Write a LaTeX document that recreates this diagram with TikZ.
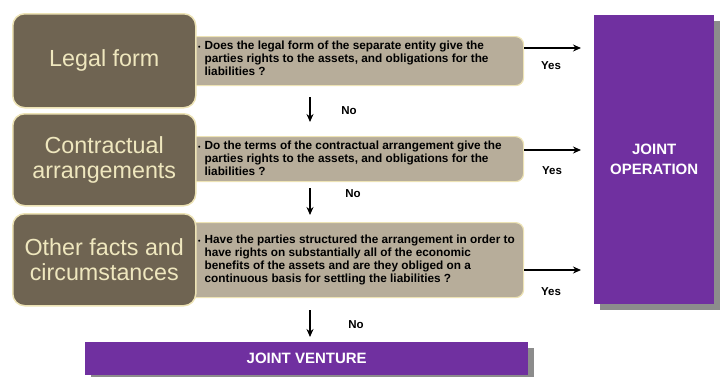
\documentclass[tikz,border=0pt]{standalone}
\usepackage{fontspec}
\setmainfont{Liberation Sans}
\usetikzlibrary{arrows.meta,shadows}
\definecolor{brownbox}{HTML}{6F6452}
\definecolor{creamline}{HTML}{EDE3B5}
\definecolor{creamtext}{HTML}{EFE7BE}
\definecolor{graybox}{HTML}{B7AD9A}
\definecolor{purplebox}{HTML}{7030A0}
\definecolor{shadowgray}{HTML}{8C8C8C}
\tikzset{
  brownstep/.style={draw=creamline, line width=1.5pt, fill=brownbox, rounded corners=12pt,
    anchor=north west, inner sep=0pt, minimum width=183pt, text=creamtext, align=center,
    font=\fontsize{23.3}{25}\selectfont},
  grayq/.style={draw=creamline, line width=1.2pt, fill=graybox, rounded corners=8pt,
    anchor=north west, inner sep=0pt, minimum width=343pt},
  qtext/.style={anchor=west, inner sep=0pt, font=\bfseries\fontsize{11.8}{13}\selectfont, align=left},
  purplebx/.style={fill=purplebox, anchor=north west, inner sep=0pt, text=white, align=center,
    font=\bfseries\fontsize{15}{20}\selectfont,
    drop shadow={shadow xshift=6pt, shadow yshift=-6pt, fill=shadowgray, opacity=1}},
  ans/.style={inner sep=0pt, font=\bfseries\fontsize{11.5}{13}\selectfont},
  arr/.style={line width=1.3pt, -{Stealth[length=8pt,width=7pt]}}
}
\newcommand{\qlines}[1]{\begin{tabular}{@{}l@{\hspace{4pt}}l@{}}{\scriptsize\textbullet}&#1\end{tabular}}
\begin{document}
\begin{tikzpicture}[x=1pt,y=-1pt]
\useasboundingbox (0,0) rectangle (723,376);
% question boxes
\node[grayq, minimum height=49pt] (q1) at (180,36) {};
\node[grayq, minimum height=45pt] (q2) at (180,136) {};
\node[grayq, minimum height=75pt] (q3) at (180,222) {};
% criteria boxes
\node[brownstep, minimum height=94pt] (b1) at (12,13) {Legal form};
\node[brownstep, minimum height=92pt] (b2) at (12,113) {Contractual\\arrangements};
\node[brownstep, minimum height=92pt] (b3) at (12,213) {Other facts and\\circumstances};
% question texts
\node[qtext] (t1) at (198,60) {\qlines{Does the legal form of the separate entity give the\\ & parties rights to the assets, and obligations for the\\ & liabilities ?}};
\node[qtext] (t2) at (198,159.5) {\qlines{Do the terms of the contractual arrangement give the\\ & parties rights to the assets, and obligations for the\\ & liabilities ?}};
\node[qtext] (t3) at (198,260) {\qlines{Have the parties structured the arrangement in order to\\ & have rights on substantially all of the economic\\ & benefits of the assets and are they obliged on a\\ & continuous basis for settling the liabilities ?}};
% outcomes
\node[purplebx, minimum width=120pt, minimum height=289pt] (op) at (594,15) {JOINT\\OPERATION};
\node[purplebx, minimum width=443pt, minimum height=33pt] (jv) at (85,342) {JOINT  VENTURE};
% arrow ends
\coordinate (y1s) at (524,48);  \coordinate (y1e) at (581,48);
\coordinate (y2s) at (524,150); \coordinate (y2e) at (581,150);
\coordinate (y3s) at (524,270); \coordinate (y3e) at (581,270);
\coordinate (n1s) at (310,97);  \coordinate (n1e) at (310,122);
\coordinate (n2s) at (310,188); \coordinate (n2e) at (310,215);
\coordinate (n3s) at (310,310); \coordinate (n3e) at (310,337);
\draw[arr] (y1s) -- (y1e);
\draw[arr] (y2s) -- (y2e);
\draw[arr] (y3s) -- (y3e);
\draw[arr] (n1s) -- (n1e);
\draw[arr] (n2s) -- (n2e);
\draw[arr] (n3s) -- (n3e);
% labels
\node[ans] (yes1) at (551,66) {Yes};
\node[ans] (yes2) at (552,171) {Yes};
\node[ans] (yes3) at (551,292) {Yes};
\node[ans] (no1) at (349,111) {No};
\node[ans] (no2) at (353,194) {No};
\node[ans] (no3) at (356,325) {No};
\end{tikzpicture}
\end{document}
